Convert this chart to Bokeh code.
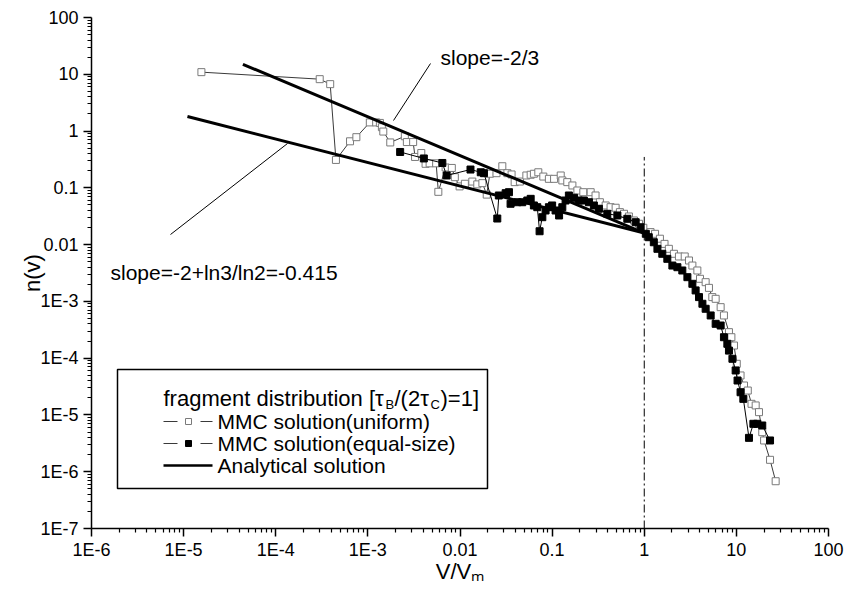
from bokeh.plotting import figure
from bokeh.models import Range1d, LinearScale, FixedTicker, CustomJSTickFormatter, Label
from bokeh.embed import file_html
from bokeh.resources import INLINE

# ---------------- data ----------------
uniform_v = [1.56e-5, 3.0e-4, 3.9e-4, 4.5e-4, 6.4e-4, 7.5e-4, 1.05e-3, 1.23e-3, 1.35e-3, 1.42e-3,
             1.47e-3, 1.75e-3, 2.52e-3, 2.65e-3, 3.10e-3, 3.25e-3, 3.80e-3, 4.23e-3, 4.68e-3, 5.51e-3,
             5.82e-3, 6.98e-3, 8.15e-3, 8.79e-3, 9.9e-3, 1.13e-2, 1.36e-2, 1.54e-2, 1.75e-2, 1.95e-2,
             2.11e-2, 2.49e-2, 2.88e-2, 3.27e-2, 3.63e-2, 3.92e-2, 4.47e-2, 5.25e-2, 5.85e-2, 6.34e-2,
             7.08e-2, 8.02e-2, 9.22e-2, 0.105, 0.124, 0.129, 0.146, 0.166, 0.188, 0.218,
             0.262, 0.296, 0.330, 0.381, 0.431, 0.489, 0.544, 0.603, 0.682, 0.773,
             0.877, 0.977, 1.17, 1.31, 1.48, 1.66, 1.85, 2.10, 2.38, 2.75,
             3.06, 3.33, 3.77, 4.03, 4.64, 5.04, 5.48, 5.96, 6.75, 7.33,
             8.31, 8.83, 9.42, 10.1, 11.1, 12.1, 13.3, 14.6, 16.2, 17.6,
             19.1, 20.0, 23.2, 26.7]
uniform_n = [10.9, 8.2, 6.7, 0.31, 0.66, 0.78, 1.42, 1.42, 1.39, 1.17,
             0.98, 0.63, 0.81, 0.64, 0.64, 0.35, 0.41, 0.265, 0.27, 0.27,
             0.085, 0.228, 0.224, 0.154, 0.106, 0.118, 0.129, 0.115, 0.121, 0.076,
             0.177, 0.181, 0.24, 0.181, 0.172, 0.126, 0.129, 0.165, 0.17, 0.177,
             0.188, 0.158, 0.144, 0.144, 0.165, 0.135, 0.126, 0.11, 0.0897, 0.0838,
             0.0838, 0.0733, 0.0558, 0.0489, 0.0456, 0.0446, 0.0373, 0.0349, 0.0313, 0.0266,
             0.0233, 0.0198, 0.0166, 0.0155, 0.0127, 0.0103, 8.43e-3, 6.89e-3, 6.18e-3, 6.18e-3,
             5.25e-3, 4.28e-3, 3.50e-3, 2.50e-3, 2.18e-3, 1.73e-3, 1.19e-3, 1.11e-3, 7.91e-4, 5.65e-4,
             2.87e-4, 2.34e-4, 1.67e-4, 7.96e-5, 4.96e-5, 3.30e-5, 2.69e-5, 1.57e-5, 1.47e-5, 1.12e-5,
             4.97e-6, 3.55e-6, 1.62e-6, 6.8e-7]

equal_v = [2.24e-3, 4.05e-3, 6.43e-3, 7.16e-3, 1.30e-2, 1.68e-2, 1.82e-2, 2.54e-2, 2.64e-2, 3.13e-2,
           3.40e-2, 3.54e-2, 4.19e-2, 4.74e-2, 5.38e-2, 5.85e-2, 6.34e-2, 6.90e-2, 7.31e-2, 7.83e-2,
           8.49e-2, 9.22e-2, 0.100, 0.109, 0.119, 0.129, 0.140, 0.152, 0.173, 0.195,
           0.221, 0.251, 0.284, 0.322, 0.397, 0.511, 0.655, 0.807, 0.914, 1.04,
           1.12, 1.27, 1.39, 1.57, 1.78, 2.02, 2.29, 2.59, 2.94, 3.33,
           3.61, 3.93, 4.28, 4.64, 5.26, 5.96, 6.75, 7.33, 7.98, 8.31,
           9.06, 9.82, 10.3, 11.1, 11.9, 13.7, 15.3, 16.9, 19.1, 23.2]
equal_n = [0.428, 0.329, 0.274, 0.165, 0.21, 0.188, 0.181, 0.0288, 0.0733, 0.0805,
           0.0838, 0.0524, 0.0558, 0.0558, 0.0598, 0.064, 0.0489, 0.0456, 0.0172, 0.0304,
           0.0399, 0.0456, 0.0489, 0.0399, 0.0326, 0.0456, 0.0598, 0.0733, 0.0668, 0.0598,
           0.0598, 0.0558, 0.0489, 0.0428, 0.0349, 0.0326, 0.0285, 0.0248, 0.0202, 0.0155,
           0.0135, 0.011, 8.43e-3, 6.89e-3, 5.62e-3, 4.28e-3, 4.0e-3, 3.50e-3, 2.67e-3, 2.04e-3,
           1.56e-3, 1.19e-3, 9.08e-4, 7.41e-4, 5.65e-4, 4.03e-4, 3.76e-4, 2.34e-4, 1.79e-4, 1.36e-4,
           9.75e-5, 6.07e-5, 4.04e-5, 2.51e-5, 1.92e-5, 3.95e-6, 6.98e-6, 6.98e-6, 6.52e-6, 3.55e-6]

# analytical solutions (slope -2/3 and slope -2+ln3/ln2)
analytic_a_v = [4.4e-5, 1.0]
analytic_a_n = [15.0, 0.016]
analytic_b_v = [1.1e-5, 1.0]
analytic_b_n = [1.8, 0.016]

# V = Vm marker line
vm_v = [1.0, 1.0]
vm_n = [1e-7, 0.35]

x_major = [1e-6, 1e-5, 1e-4, 1e-3, 1e-2, 1e-1, 1, 10, 100]
y_major = [1e-7, 1e-6, 1e-5, 1e-4, 1e-3, 1e-2, 1e-1, 1, 10, 100]

FONT = "Liberation Sans"

# ---------------- figure ----------------
p = figure(width=846, height=589, x_axis_type="log", y_axis_type="log",
           x_range=Range1d(1e-6, 100), y_range=Range1d(1e-7, 100),
           output_backend="svg", toolbar_location=None,
           min_border_left=91, min_border_right=18, min_border_top=17, min_border_bottom=61)
p.outline_line_color = None
p.grid.visible = False
p.background_fill_color = "white"
p.border_fill_color = "white"

# pixel-like helper ranges for annotations (layout only)
p.extra_x_ranges = {"px": Range1d(91, 828)}
p.extra_y_ranges = {"py": Range1d(528, 17)}
p.extra_x_scales = {"px": LinearScale()}
p.extra_y_scales = {"py": LinearScale()}

fmt = CustomJSTickFormatter(code="""
const e = Math.round(Math.log10(tick));
if (e < -2) { return "1E" + e; }
if (e < 0) { return Math.pow(10, e).toFixed(-e); }
return String(Math.round(Math.pow(10, e)));
""")

def minors(lo, hi):
    return [m * 10.0 ** e for e in range(lo, hi) for m in range(2, 10)]

p.xaxis.ticker = FixedTicker(ticks=x_major, minor_ticks=minors(-6, 2))
p.yaxis.ticker = FixedTicker(ticks=y_major, minor_ticks=minors(-7, 2))
for ax in (p.xaxis[0], p.yaxis[0]):
    ax.formatter = fmt
    ax.axis_line_width = 1.5
    ax.axis_line_color = "black"
    ax.major_tick_line_width = 1.5
    ax.minor_tick_line_width = 1.2
    ax.major_tick_line_color = "black"
    ax.minor_tick_line_color = "black"
    ax.major_tick_in = 0
    ax.minor_tick_in = 0
    ax.major_tick_out = 8
    ax.minor_tick_out = 4
    ax.major_label_text_font = FONT
    ax.major_label_text_font_size = "18px"
    ax.major_label_text_color = "black"
    ax.major_label_standoff = 5
    ax.axis_label_text_font = FONT
    ax.axis_label_text_font_size = "22px"
    ax.axis_label_text_font_style = "normal"
    ax.axis_label_text_color = "black"

p.xaxis.axis_label = "V/V\u2098"
p.xaxis.major_label_standoff = 3
p.xaxis.axis_label_standoff = -4
p.yaxis.axis_label = "n(v)"
p.yaxis.axis_label_standoff = -8

# V = Vm dash-dot line
p.line(vm_v, vm_n, line_color="black", line_width=1, line_dash="8 3 2 3")

# MMC uniform
p.line(uniform_v, uniform_n, line_color="#3a3a3a", line_width=1)
p.scatter(uniform_v, uniform_n, marker="square", size=7, fill_color="white",
          line_color="#7a7a7a", line_width=1)

# MMC equal-size
p.line(equal_v, equal_n, line_color="black", line_width=1)
p.scatter(equal_v, equal_n, marker="square", size=7, fill_color="black",
          line_color="black", line_width=1)

# Analytical lines
p.line(analytic_a_v, analytic_a_n, line_color="black", line_width=3)
p.line(analytic_b_v, analytic_b_n, line_color="black", line_width=3)

PX = dict(x_range_name="px", y_range_name="py")

# leader lines for the slope annotations
p.segment(x0=[393, 170], y0=[120, 234], x1=[430, 287], y1=[63, 143],
          line_color="black", line_width=1, **PX)

def lab(x, y, text, size, align="left", baseline="alphabetic", angle=0):
    p.add_layout(Label(x=x, y=y, text=text, text_font=FONT, text_font_size=f"{size}px",
                       text_color="black", text_align=align, text_baseline=baseline,
                       angle=angle, **PX))

lab(440, 57, "slope=-2/3", 21)
lab(110, 272, "slope=-2+ln3/ln2=-0.415", 21)

# legend box
p.quad(left=[117], right=[487], top=[369], bottom=[488], fill_color="white",
       line_color="black", line_width=1.5, **PX)
lab(163, 398, "fragment distribution [\u03c4", 22)
lab(385, 404, "B", 13)
lab(394, 398, "/(2\u03c4", 22)
lab(430, 404, "C", 13)
lab(440, 398, ")=1]", 22)

# legend samples
p.segment(x0=[163, 200, 163, 200], y0=[421, 421, 443, 443], x1=[177, 212, 177, 212],
          y1=[421, 421, 443, 443], line_color="#3a3a3a", line_width=1, **PX)
p.scatter(x=[188], y=[421], marker="square", size=6, fill_color="white",
          line_color="#7a7a7a", line_width=1, **PX)
p.scatter(x=[188], y=[443], marker="square", size=6, fill_color="black",
          line_color="black", **PX)
p.segment(x0=[163], y0=[465], x1=[212], y1=[465], line_color="black", line_width=2.5, **PX)
lab(217, 421, "MMC solution(uniform)", 21, baseline="middle")
lab(217, 443, "MMC solution(equal-size)", 21, baseline="middle")
lab(217, 465, "Analytical solution", 21, baseline="middle")

open("out.html", "w").write(file_html(p, INLINE))
